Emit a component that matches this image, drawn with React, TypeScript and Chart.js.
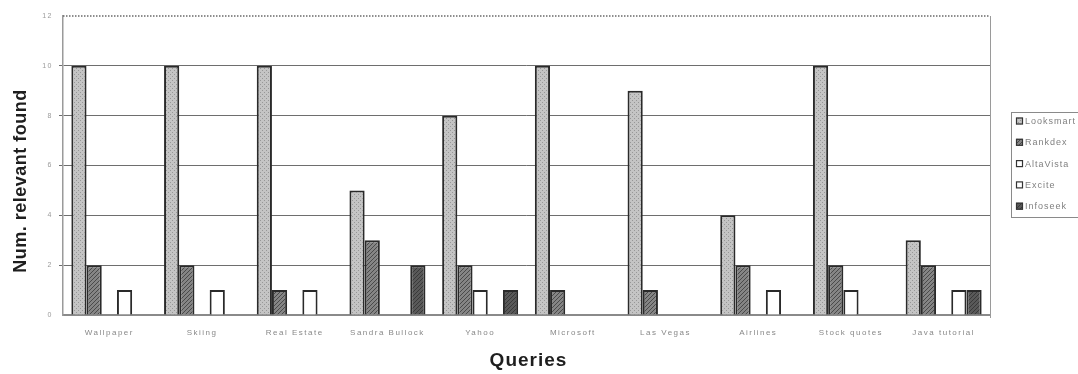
import { useEffect, useRef } from "react";
import { Chart, registerables } from "chart.js";

Chart.register(...registerables);

// Queries and relevant results found by each search engine
const queries = [
  "Wallpaper",
  "Skiing",
  "Real Estate",
  "Sandra Bullock",
  "Yahoo",
  "Microsoft",
  "Las Vegas",
  "Airlines",
  "Stock quotes",
  "Java tutorial",
];
const engines = ["Looksmart", "Rankdex", "AltaVista", "Excite", "Infoseek"];
const looksmart = [10, 10, 10, 5, 8, 10, 9, 4, 10, 3];
const rankdex = [2, 2, 1, 3, 2, 1, 1, 2, 2, 2];
const altavista = [0, 0, 0, 0, 1, 0, 0, 0, 1, 0];
const excite = [1, 1, 1, 0, 0, 0, 0, 1, 0, 1];
const infoseek = [0, 0, 0, 2, 1, 0, 0, 0, 0, 1];
const yMax = 12;
const yStep = 2;

const FONT = "'Liberation Sans', Arial, sans-serif";

function makePattern(bg: string, fg: string, cells: number[][], size: number) {
  const c = document.createElement("canvas");
  c.width = size;
  c.height = size;
  const g = c.getContext("2d")!;
  g.fillStyle = bg;
  g.fillRect(0, 0, size, size);
  g.fillStyle = fg;
  for (const [x, y] of cells) g.fillRect(x, y, 1, 1);
  return g.createPattern(c, "repeat")!;
}

export default function App() {
  const ref = useRef<HTMLCanvasElement | null>(null);

  useEffect(() => {
    document.body.style.margin = "0";
    const canvas = ref.current!;

    const dotted = makePattern("#c4c4c4", "#979797", [[0, 0], [2, 2]], 4);
    const hatched = makePattern("#858585", "#4a4a4a", [[0, 3], [1, 2], [2, 1], [3, 0]], 4);
    const dark = makePattern("#595959", "#393939", [[0, 0], [2, 2], [1, 3], [3, 1]], 4);

    const fills: (string | CanvasPattern)[] = [dotted, hatched, "#ffffff", "#ffffff", dark];
    const series = [looksmart, rankdex, altavista, excite, infoseek];

    const framePlugin = {
      id: "frame",
      beforeDraw(chart: any) {
        chart.ctx.letterSpacing = "1.5px";
      },
      beforeDatasetsDraw(chart: any) {
        const { ctx, chartArea, scales } = chart;
        const yTop = scales.y.getPixelForValue(yMax);
        ctx.save();
        ctx.letterSpacing = "0px";
        ctx.strokeStyle = "#6a6a6a";
        ctx.lineWidth = 1.5;
        ctx.setLineDash([1.5, 1.5]);
        ctx.beginPath();
        ctx.moveTo(chartArea.left, yTop);
        ctx.lineTo(chartArea.right, yTop);
        ctx.stroke();
        ctx.setLineDash([]);
        ctx.strokeStyle = "#9a9a9a";
        ctx.lineWidth = 1;
        ctx.beginPath();
        ctx.moveTo(chartArea.right + 0.5, yTop);
        ctx.lineTo(chartArea.right + 0.5, chartArea.bottom + 3);
        ctx.stroke();
        ctx.restore();
      },
      afterDraw(chart: any) {
        const { ctx, chartArea } = chart;
        ctx.save();
        // axis titles
        ctx.fillStyle = "#1e1e1e";
        ctx.textAlign = "center";
        ctx.textBaseline = "middle";
        ctx.letterSpacing = "0.5px";
        ctx.font = `bold 18px ${FONT}`;
        ctx.save();
        ctx.translate(21, 181);
        ctx.rotate(-Math.PI / 2);
        ctx.fillText("Num. relevant found", 0, 0);
        ctx.restore();
        ctx.letterSpacing = "1px";
        ctx.font = `bold 19px ${FONT}`;
        ctx.fillText("Queries", (chartArea.left + chartArea.right) / 2 + 2, 361);

        // legend
        const bx = 1011;
        const by = 112;
        ctx.fillStyle = "#ffffff";
        ctx.fillRect(bx, by, 80, 105);
        ctx.strokeStyle = "#8a8a8a";
        ctx.lineWidth = 1;
        ctx.strokeRect(bx + 0.5, by + 0.5, 80, 105);
        ctx.font = `9px ${FONT}`;
        ctx.textAlign = "left";
        ctx.letterSpacing = "1px";
        engines.forEach((name, i) => {
          const cy = by + 9 + i * 21.3;
          ctx.fillStyle = fills[i] as any;
          ctx.fillRect(bx + 5, cy - 3.5, 7, 7);
          ctx.strokeStyle = "#333";
          ctx.lineWidth = 1.2;
          ctx.strokeRect(bx + 5.5, cy - 3, 6, 6);
          ctx.fillStyle = "#808080";
          ctx.fillText(name, bx + 14, cy + 0.5);
        });
        ctx.restore();
        ctx.letterSpacing = "0px";
      },
    };

    const chart = new Chart(canvas, {
      type: "bar",
      data: {
        labels: queries,
        datasets: engines.map((name, i) => ({
          label: name,
          data: series[i],
          backgroundColor: fills[i] as any,
          borderColor: "#2a2a2a",
          borderWidth: 2,
          borderSkipped: "bottom" as const,
          categoryPercentage: 0.82,
          barPercentage: 1,
        })),
      },
      options: {
        animation: false,
        responsive: false,
        layout: { padding: { top: 16, right: 88, left: 0, bottom: 0 } },
        plugins: {
          legend: { display: false },
          tooltip: { enabled: false },
        },
        scales: {
          x: {
            grid: { display: false, drawTicks: false },
            border: { display: true, color: "#8a8a8a", width: 2 },
            ticks: {
              color: "#888888",
              font: { size: 8, family: FONT },
              padding: 13,
              maxRotation: 0,
              autoSkip: false,
            },
            afterFit: (s: any) => {
              s.height = 59;
            },
          },
          y: {
            min: 0,
            max: yMax,
            grid: {
              color: (c: any) =>
                c.tick && (c.tick.value === 0 || c.tick.value === yMax) ? "rgba(0,0,0,0)" : "#6e6e6e",
              lineWidth: 1,
              drawTicks: true,
              tickLength: 4,
            },
            border: { display: true, color: "#9a9a9a", width: 1.5 },
            ticks: {
              stepSize: yStep,
              color: "#9a9a9a",
              font: { size: 7, family: FONT },
              padding: 6,
            },
            afterFit: (s: any) => {
              s.width = 63;
            },
          },
        },
      },
      plugins: [framePlugin],
    });

    return () => chart.destroy();
  }, []);

  return (
    <div style={{ width: 1078, height: 374, background: "#fff" }}>
      <canvas ref={ref} width={1078} height={374} style={{ display: "block" }} />
    </div>
  );
}
